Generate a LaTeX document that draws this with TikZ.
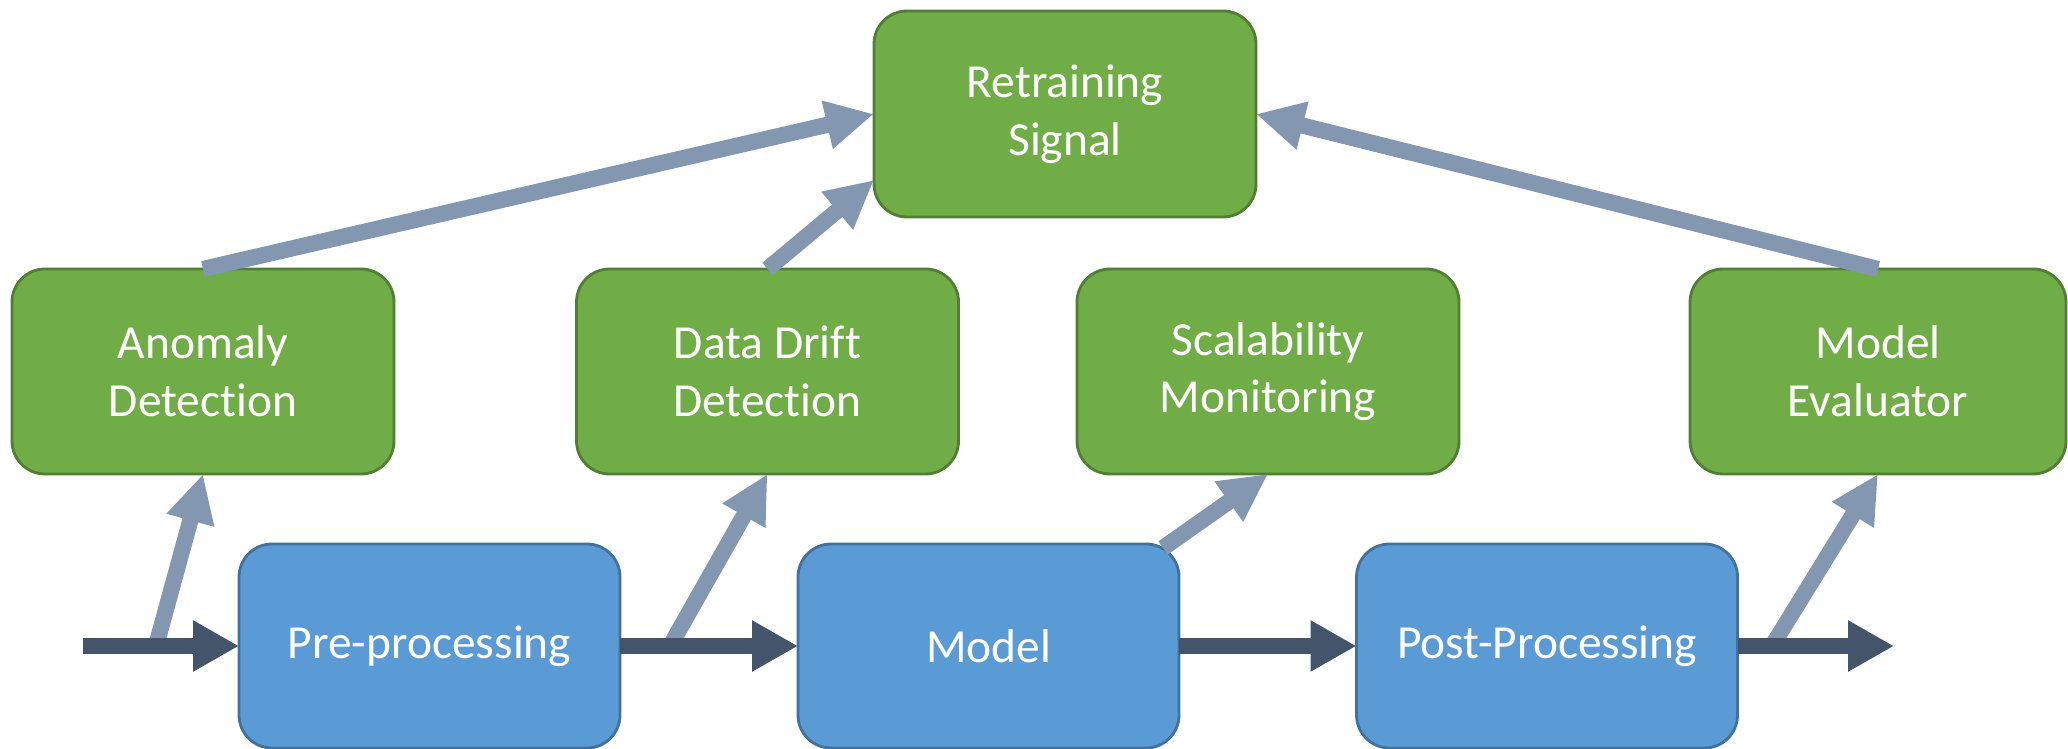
\documentclass[tikz,border=0pt]{standalone}
\usepackage{xcolor}
\usepackage{fontspec}
\setmainfont{Carlito}[RawFeature=-liga]
\usetikzlibrary{arrows.meta}

\definecolor{boxgreen}{HTML}{70AD47}
\definecolor{edgegreen}{HTML}{507E32}
\definecolor{boxblue}{HTML}{5B9BD5}
\definecolor{edgeblue}{HTML}{41719C}
\definecolor{flowdark}{HTML}{44546A}
\definecolor{feedgray}{HTML}{8497B0}

\begin{document}
\begin{tikzpicture}[
    monitor/.style={draw=edgegreen, fill=boxgreen, line width=0.8pt, rounded corners=0.33cm,
        minimum width=3.82cm, minimum height=2.05cm, inner sep=0pt, outer sep=0pt,
        align=center, text=white, font=\fontsize{13.5}{16.4}\selectfont},
    stage/.style={draw=edgeblue, fill=boxblue, line width=0.8pt, rounded corners=0.33cm,
        minimum width=3.81cm, minimum height=2.04cm, inner sep=0pt, outer sep=0pt,
        align=center, text=white, font=\fontsize{13.5}{16.4}\selectfont},
    flow/.style={draw=flowdark, line width=4.3pt, -{Triangle[length=4.6mm,width=4.8mm]}},
    feed/.style={draw=feedgray, line width=4.6pt, -{Triangle[length=4.8mm,width=4.6mm]}}
  ]
             \useasboundingbox (0, 0) rectangle (20.68, 7.48);

             \node[monitor, minimum height=2.06cm] (retrain) at (10.65, 6.34) {Retraining\\Signal};

             \node[monitor] (anomaly) at (2.03, 3.765) {Anomaly\\Detection};
             \node[monitor] (drift) at (7.675, 3.765) {Data Drift\\Detection};
             \node[monitor] (scale) at (12.68, 3.765) {Scalability\\Monitoring};
             \node[monitor, minimum width=3.76cm] (evaluator) at (18.78, 3.765) {Model\\Evaluator};

             \node[stage] (pre) at (4.295, 1.02) {Pre-processing};
             \node[stage] (model) at (9.885, 1.02) {Model};
             \node[stage] (post) at (15.47, 1.02) {Post-Processing};

             \coordinate (input) at (0.83, 1.02);
             \coordinate (output) at (18.94, 1.02);
             \coordinate (tapA) at (1.56, 1.02);
             \coordinate (tapB) at (6.70, 1.02);
             \coordinate (tapC) at (11.63, 2.00);
             \coordinate (tapD) at (17.72, 1.02);
             \coordinate (retrainlow) at (8.74, 5.68);

             % feedback to the monitors
             \draw[feed] (tapA) -- (anomaly.south);
             \draw[feed] (tapB) -- (drift.south);
             \draw[feed] (tapC) -- (scale.south);
             \draw[feed] (tapD) -- (evaluator.south);

             % retraining
             \draw[feed] (anomaly.north) -- (retrain.west);
             \draw[feed] (drift.north) -- (retrainlow);
             \draw[feed] (evaluator.north) -- (retrain.east);

             % main pipeline
             \draw[flow] (input) -- (pre.west);
             \draw[flow] (pre.east) -- (model.west);
             \draw[flow] (model.east) -- (post.west);
             \draw[flow] (post.east) -- (output);

             \end{tikzpicture}
\end{document}
